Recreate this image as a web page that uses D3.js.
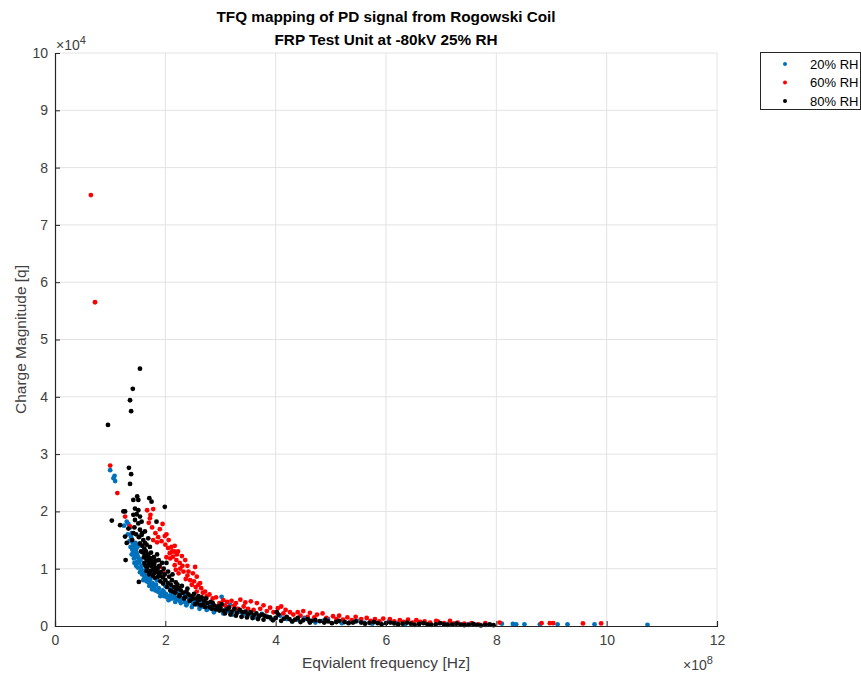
<!DOCTYPE html>
<html>
<head>
<meta charset="utf-8">
<script src="https://cdn.jsdelivr.net/npm/d3@7"></script>
<style>
  body { margin: 0; background: #fff; }
  svg { display: block; font-family: "Liberation Sans", Arial, Helvetica, sans-serif; }
</style>
</head>
<body>
<svg id="chart" width="861" height="676"></svg>
<script>
// Equivalent frequency in units of 1e8 Hz, charge magnitude in units of 1e4 q
const xTicks = [0, 2, 4, 6, 8, 10, 12];
const yTicks = [0, 1, 2, 3, 4, 5, 6, 7, 8, 9, 10];
const seriesNames = ["20% RH", "60% RH", "80% RH"];

const rh20 = [
  [1.00,2.72],[1.06,2.58],[1.09,2.53],[1.08,2.62],[1.30,1.82],[1.36,1.72],[1.39,1.62],[1.33,1.78],
  [1.41,1.45],[1.43,1.40],[1.45,1.36],[1.44,1.30],[1.47,1.33],[1.48,1.27],[1.50,1.22],[1.46,1.20],
  [1.52,1.18],[1.49,1.12],[1.53,1.10],[1.55,1.15],[1.42,1.25],[1.40,1.33],[1.51,1.40],[1.57,1.05],
  [1.47,1.05],[1.44,1.10],[1.38,1.55],[1.35,1.48],
  [1.25,1.75],[1.32,1.60],[1.37,1.38],[1.39,1.25],[1.43,1.18],[1.46,1.45],[1.49,1.38],[1.50,1.02],
  [1.54,0.94],[1.58,0.90],[1.62,0.86],[1.60,0.80],[1.66,0.78],[1.70,0.76],[1.74,0.72],[1.78,0.70],
  [1.68,0.84],[1.76,0.64],[1.82,0.62],[1.86,0.60],[1.90,0.58],[1.94,0.55],[1.98,0.52],[2.03,0.50],
  [2.08,0.53],[2.12,0.48],[2.17,0.51],[2.20,0.46],[2.26,0.44],[2.30,0.48],[2.35,0.42],[2.40,0.40],
  [2.45,0.44],[2.50,0.38],[2.55,0.41],[2.60,0.36],[2.63,0.45],[2.68,0.34],[2.72,0.38],[2.78,0.31],
  [2.85,0.35],[2.90,0.29],[2.93,0.33],[3.02,0.51],[3.10,0.30],[3.17,0.37],[3.25,0.27],[3.35,0.25],
  [1.64,0.98],[1.72,0.92],[1.85,0.80],[2.00,0.70],[2.10,0.65],[2.22,0.60],[2.35,0.55],[2.45,0.50],
  [2.58,0.47],[2.70,0.42],[2.80,0.40],[1.95,0.62],[2.15,0.56],
  [1.56,1.00],[1.59,0.95],[1.61,0.92],[1.63,0.82],[1.67,0.88],[1.69,0.80],[1.71,0.70],[1.73,0.82],
  [1.77,0.75],[1.80,0.66],[1.83,0.72],[1.88,0.66],[1.91,0.52],[1.97,0.60],[2.01,0.56],[2.06,0.45],
  [2.11,0.58],[2.18,0.42],[2.24,0.50],[2.28,0.40],[2.33,0.47],[2.38,0.36],[2.43,0.48],[2.48,0.33],
  [2.53,0.44],[2.62,0.30],[2.66,0.40],[2.75,0.28],[2.82,0.36],[2.88,0.24],[2.98,0.30],[3.05,0.22],
  [3.14,0.26],[3.22,0.20],[3.30,0.30],[3.40,0.18],[3.50,0.25],[3.62,0.15],[3.75,0.21],[3.92,0.12],
  [4.08,0.18],[4.30,0.08],[4.52,0.14],[4.72,0.06],[4.95,0.12],[5.20,0.05],[5.48,0.09],[5.75,0.04],
  [6.05,0.08],[6.35,0.03],[6.62,0.06],[6.95,0.05],[7.25,0.04],[7.60,0.03],[7.85,0.02],[8.10,0.04],
  [3.45,0.22],[3.55,0.20],[3.70,0.18],[3.85,0.16],[4.00,0.14],[4.20,0.12],[4.40,0.11],[4.60,0.10],
  [4.85,0.09],[5.10,0.08],[5.35,0.07],[5.60,0.06],[5.90,0.055],[6.20,0.05],[6.50,0.045],[6.80,0.04],
  [7.10,0.035],[7.39,0.03],[7.48,0.03],[8.30,0.035],[8.36,0.03],[8.51,0.03],[8.79,0.03],[9.11,0.03],
  [9.29,0.03],[9.78,0.03],[10.74,0.02]
];

const rh60 = [
  [0.65,7.52],[0.725,5.65],[1.00,2.80],[1.13,2.32],[1.27,1.91],[1.36,1.74],[1.67,2.02],[1.78,2.04],
  [1.73,1.94],[1.72,1.88],[1.90,1.69],[1.99,1.57],[1.78,1.50],[1.95,1.78],[2.02,1.60],[1.85,1.46],
  [2.05,1.36],[2.11,1.38],[2.17,1.40],[2.08,1.27],[2.14,1.21],[2.20,1.15],[2.26,1.10],[2.36,1.15],
  [2.17,1.06],[1.96,0.95],[2.23,1.30],[2.30,1.22],[2.12,1.30],[2.02,1.20],[2.27,1.00],[2.33,0.95],
  [2.40,1.05],[2.54,1.03],[2.57,0.86],[2.48,0.72],[2.60,0.72],[2.65,0.66],[2.45,0.80],[2.72,0.60],
  [1.90,1.03],[1.96,0.86],[2.57,0.60],[2.40,0.88],[2.50,0.92],[2.63,0.75],
  [1.70,1.80],[1.76,1.72],[1.82,1.62],[1.87,1.55],[1.93,1.48],[2.00,1.42],[2.06,1.50],[2.09,1.18],
  [2.16,1.30],[2.21,1.25],[2.19,0.98],[2.24,0.92],[2.31,1.05],[2.37,0.82],[2.42,0.95],[2.52,0.78],
  [2.55,0.68],[2.68,0.58],[2.75,0.52],[2.86,0.48],[2.98,0.40],[3.08,0.36],[3.16,0.33],[3.25,0.36],
  [3.32,0.30],[3.42,0.34],[3.50,0.30],[3.60,0.28],[3.72,0.30],[3.84,0.26],[3.96,0.24],[4.14,0.22],
  [4.32,0.20],[4.45,0.18],[4.58,0.16],[4.70,0.15],[4.92,0.14],[5.10,0.12],[5.22,0.11],[5.38,0.10],
  [5.55,0.12],[5.72,0.09],[5.88,0.08],[6.15,0.08],[6.32,0.07],[6.48,0.06],[6.62,0.07],[6.80,0.06],
  [7.05,0.05],[7.22,0.04],[7.42,0.04],[7.68,0.03],
  [2.80,0.55],[2.92,0.50],[3.05,0.45],[3.12,0.42],[3.20,0.44],[3.28,0.40],[3.36,0.46],[3.45,0.41],
  [3.55,0.43],[3.66,0.40],[3.78,0.36],[3.90,0.32],[4.04,0.31],[4.10,0.34],[4.18,0.28],[4.26,0.24],
  [4.40,0.24],[4.50,0.26],[4.62,0.23],[4.75,0.20],[4.85,0.22],[5.04,0.17],[5.15,0.18],[5.30,0.15],
  [5.45,0.16],[5.65,0.14],[5.80,0.12],[5.95,0.13],[6.07,0.12],[6.25,0.10],[6.40,0.11],[6.55,0.10],
  [6.70,0.08],[6.91,0.09],[6.94,0.075],[7.16,0.087],[7.30,0.06],[7.55,0.05],[7.80,0.05],[8.06,0.06],
  [8.82,0.05],[8.97,0.05],[9.03,0.05],[9.57,0.045],[9.90,0.045]
];

const rh80 = [
  [1.54,4.49],[1.41,4.14],[1.36,3.94],[1.38,3.75],[0.96,3.51],[1.34,2.76],[1.38,2.65],[1.36,2.48],
  [1.03,1.84],[1.49,2.26],[1.42,2.20],[1.51,2.20],[1.71,2.23],[1.75,2.17],[1.99,2.08],[1.27,2.00],
  [1.45,2.05],[1.51,2.02],[1.42,1.94],[1.54,1.91],[1.18,1.76],[1.45,1.85],[1.51,1.79],[1.57,1.82],
  [1.84,1.82],[1.27,1.56],[1.42,1.62],[1.54,1.68],[1.57,1.59],[1.63,1.65],[1.60,1.50],[1.69,1.53],
  [1.54,1.44],[1.28,1.15],[1.52,0.77],[1.24,2.00],
  [1.58,1.40],[1.62,1.35],[1.65,1.30],[1.60,1.28],[1.68,1.25],[1.70,1.20],[1.66,1.16],[1.72,1.14],
  [1.74,1.10],[1.70,1.06],[1.76,1.04],[1.78,1.12],[1.80,1.08],[1.82,1.02],[1.78,0.98],[1.84,0.96],
  [1.86,1.00],[1.88,0.92],[1.90,0.88],[1.92,0.94],[1.75,1.18],[1.64,1.22],[1.62,1.10],[1.67,1.02],
  [1.73,0.96],[1.80,0.92],[1.95,0.85],[2.00,0.80],[1.97,1.00],[2.02,1.10],[2.05,0.95],[1.88,1.15],
  [1.85,1.25],[1.66,1.42],[1.72,1.38],
  [1.30,1.45],[1.33,1.70],[1.40,1.50],[1.44,1.72],[1.47,1.60],[1.48,1.95],[1.52,1.55],[1.56,1.30],
  [1.58,1.62],[1.61,1.20],[1.63,1.45],[1.64,1.05],[1.66,0.96],[1.69,1.12],[1.71,0.90],[1.74,1.28],
  [1.77,0.88],[1.79,1.20],[1.81,0.84],[1.83,1.14],[1.87,0.86],[1.89,1.05],[1.91,0.78],[1.94,1.10],
  [1.96,0.74],[1.99,0.90],[2.03,0.68],[2.07,0.86],[2.09,0.62],[2.13,0.90],[2.18,0.58],[2.19,0.76],
  [2.24,0.66],[2.25,0.52],[2.30,0.70],[2.34,0.48],[2.40,0.65],[2.44,0.44],[2.50,0.48],[2.54,0.38],
  [2.60,0.52],[2.64,0.36],[2.72,0.33],[2.74,0.48],[2.84,0.30],[2.86,0.40],[2.98,0.27],[3.02,0.38],
  [2.05,0.75],[2.10,0.72],[2.12,0.80],[2.16,0.68],[2.20,0.65],[2.22,0.72],[2.28,0.62],[2.32,0.58],
  [2.38,0.60],[2.42,0.55],[2.48,0.52],[2.52,0.56],[2.56,0.48],[2.62,0.46],[2.66,0.50],[2.70,0.44],
  [2.76,0.40],[2.82,0.42],[2.88,0.36],[2.95,0.34],[3.00,0.32],[2.14,0.60],[2.26,0.54],[2.36,0.50],
  [2.46,0.46],[2.58,0.40],[2.68,0.37],[2.80,0.33],[2.92,0.29],[3.05,0.27],
  [3.08,0.22],[3.15,0.32],[3.18,0.20],[3.25,0.30],[3.28,0.18],[3.35,0.28],[3.38,0.16],[3.45,0.25],
  [3.48,0.15],[3.55,0.24],[3.58,0.14],[3.65,0.22],[3.68,0.12],[3.75,0.20],[3.78,0.11],[3.85,0.16],
  [3.95,0.10],[4.02,0.24],[4.10,0.09],[4.20,0.16],[4.30,0.08],[4.40,0.14],[4.45,0.07],[4.58,0.12],
  [4.62,0.06],[4.72,0.10],[4.88,0.06],[4.90,0.11],[5.02,0.05],[5.15,0.09],[5.32,0.05],[5.45,0.08],
  [5.62,0.04],[5.78,0.07],[5.92,0.03],[6.08,0.06],[6.22,0.03],[6.38,0.06],[6.52,0.02],[6.68,0.05],
  [6.82,0.02],[6.98,0.05],[7.12,0.02],[7.28,0.04],[7.42,0.015],[7.58,0.035],[7.72,0.01],[7.88,0.03],
  [3.12,0.29],[3.20,0.25],[3.30,0.23],[3.40,0.24],[3.50,0.20],[3.60,0.19],[3.70,0.17],[3.80,0.18],
  [3.90,0.15],[4.00,0.14],[4.05,0.20],[4.15,0.13],[4.25,0.12],[4.35,0.11],[4.50,0.10],[4.65,0.09],
  [4.80,0.085],[4.95,0.08],[5.10,0.07],[5.25,0.07],[5.40,0.06],[5.55,0.06],[5.70,0.055],[5.85,0.05],
  [6.00,0.05],[6.15,0.045],[6.30,0.04],[6.45,0.04],[6.60,0.035],[6.75,0.03],[6.90,0.03],[7.05,0.03],
  [7.20,0.025],[7.35,0.025],[7.50,0.02],[7.65,0.02],[7.80,0.02],[7.95,0.015]
];

const seriesColors = ["#0072BD", "#FF0000", "#000000"];
const series = [rh20, rh60, rh80];

const svg = d3.select("#chart");
const margin = { left: 55, top: 53, right: 144, bottom: 50 };
const W = 861, H = 676;
const x = d3.scaleLinear().domain([0, 12]).range([margin.left, W - margin.right]);
const y = d3.scaleLinear().domain([0, 10]).range([H - margin.bottom, margin.top]);

const axisColor = "#262626";
const textColor = "#404040";

// grid
const grid = svg.append("g");
grid.selectAll("line.gx").data(xTicks.filter(d => d > 0)).join("line")
  .attr("x1", d => x(d)).attr("x2", d => x(d))
  .attr("y1", y(0)).attr("y2", y(10))
  .attr("stroke", "#e3e3e3").attr("stroke-width", 1);
grid.selectAll("line.gy").data(yTicks.filter(d => d > 0)).join("line")
  .attr("x1", x(0)).attr("x2", x(12))
  .attr("y1", d => y(d)).attr("y2", d => y(d))
  .attr("stroke", "#e3e3e3").attr("stroke-width", 1);

// scatter points, plotted in legend order
series.forEach((pts, i) => {
  svg.append("g").selectAll("circle").data(pts).join("circle")
    .attr("cx", d => x(d[0])).attr("cy", d => y(d[1]))
    .attr("r", 2.4).attr("fill", seriesColors[i]);
});

// axes with inward ticks
const xAxis = svg.append("g").attr("transform", `translate(0,${y(0)})`)
  .call(d3.axisBottom(x).tickValues(xTicks).tickSize(-5).tickPadding(9).tickFormat(d3.format("d")));
const yAxis = svg.append("g").attr("transform", `translate(${x(0)},0)`)
  .call(d3.axisLeft(y).tickValues(yTicks).tickSize(-5).tickPadding(7).tickFormat(d3.format("d")));
[xAxis, yAxis].forEach(a => {
  a.select(".domain").attr("stroke", axisColor).attr("stroke-width", 1.2);
  a.selectAll(".tick line").attr("stroke", axisColor);
  a.selectAll(".tick text").attr("fill", textColor).attr("font-size", 14)
    .attr("font-family", "Liberation Sans, Arial, sans-serif");
});

// exponent labels
const expY = svg.append("text").attr("x", x(0) + 1).attr("y", 50)
  .attr("font-size", 14).attr("fill", textColor);
expY.append("tspan").text("\u00d710");
expY.append("tspan").attr("dy", -6).attr("font-size", 11).text("4");

const expX = svg.append("text").attr("x", x(12) - 34).attr("y", 670)
  .attr("font-size", 14).attr("fill", textColor);
expX.append("tspan").text("\u00d710");
expX.append("tspan").attr("dy", -6).attr("font-size", 11).text("8");

// axis titles
svg.append("text").attr("x", (x(0) + x(12)) / 2).attr("y", 668)
  .attr("text-anchor", "middle").attr("font-size", 15.5).attr("fill", textColor)
  .text("Eqvialent frequency [Hz]");
svg.append("text").attr("transform", `translate(26,${(y(0) + y(10)) / 2}) rotate(-90)`)
  .attr("text-anchor", "middle").attr("font-size", 15.5).attr("fill", textColor)
  .text("Charge Magnitude [q]");

// title
const cx = (x(0) + x(12)) / 2;
svg.append("text").attr("x", cx).attr("y", 22).attr("text-anchor", "middle")
  .attr("font-size", 15.3).attr("font-weight", "bold").attr("fill", "#000")
  .text("TFQ mapping of PD signal from Rogowski Coil");
svg.append("text").attr("x", cx).attr("y", 45).attr("text-anchor", "middle")
  .attr("font-size", 15.3).attr("font-weight", "bold").attr("fill", "#000")
  .text("FRP Test Unit at -80kV 25% RH");

// legend
const lg = svg.append("g").attr("transform", "translate(760,52)");
lg.append("rect").attr("x", 0.5).attr("y", 0.5).attr("width", 100).attr("height", 57)
  .attr("fill", "#fff").attr("stroke", axisColor).attr("stroke-width", 1);
seriesNames.forEach((name, i) => {
  const gy = 12 + i * 18.5;
  lg.append("circle").attr("cx", 25).attr("cy", gy).attr("r", 2).attr("fill", seriesColors[i]);
  lg.append("text").attr("x", 50).attr("y", gy + 4.5).attr("font-size", 13)
    .attr("fill", "#000").text(name);
});
</script>
</body>
</html>
